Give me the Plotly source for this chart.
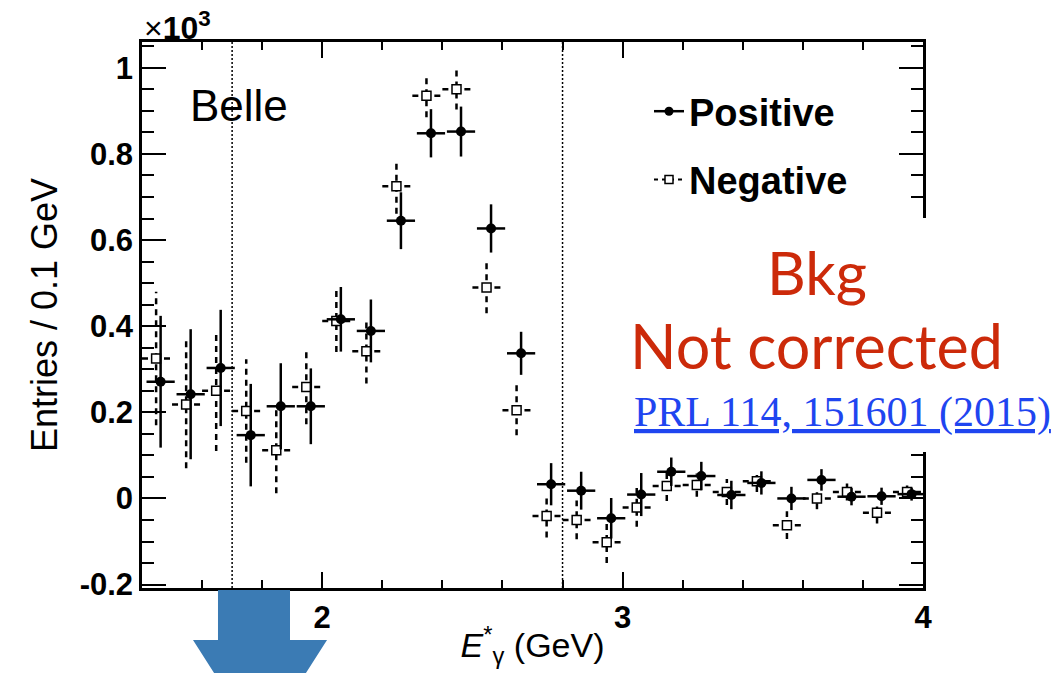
import plotly.graph_objects as go

# ---------------- data (values in units of 10^3 entries / 0.1 GeV) ----------------
bin_centers = [1.45, 1.55, 1.65, 1.75, 1.85, 1.95, 2.05, 2.15, 2.25, 2.35, 2.45, 2.55, 2.65,
               2.75, 2.85, 2.95, 3.05, 3.15, 3.25, 3.35, 3.45, 3.55, 3.65, 3.75, 3.85, 3.95]
pos_y = [0.271, 0.242, 0.303, 0.147, 0.214, 0.214, 0.416, 0.389, 0.645, 0.848, 0.852, 0.627, 0.337,
         0.033, 0.018, -0.046, 0.009, 0.062, 0.052, 0.008, 0.036, 0.000, 0.043, 0.004, 0.005, 0.010]
pos_err = [0.153, 0.151, 0.135, 0.119, 0.100, 0.088, 0.075, 0.073, 0.066, 0.056, 0.058, 0.056, 0.050,
           0.049, 0.044, 0.047, 0.050, 0.033, 0.033, 0.033, 0.027, 0.027, 0.025, 0.020, 0.020, 0.015]
neg_y = [0.325, 0.218, 0.250, 0.203, 0.112, 0.259, 0.412, 0.342, 0.725, 0.935, 0.950, 0.490, 0.205,
         -0.041, -0.050, -0.102, -0.021, 0.029, 0.031, 0.015, 0.040, -0.062, 0.000, 0.015, -0.033, 0.015]
neg_err = [0.155, 0.148, 0.140, 0.120, 0.100, 0.087, 0.072, 0.075, 0.064, 0.050, 0.047, 0.060, 0.058,
           0.050, 0.045, 0.048, 0.045, 0.035, 0.027, 0.030, 0.025, 0.032, 0.025, 0.020, 0.025, 0.015]
bin_half = 0.047          # half bin width drawn as horizontal bar
pos_shift = 0.012         # small horizontal displacement of the two series
neg_shift = -0.003
cut_lines = [1.7, 2.8]    # dotted signal-region boundaries
y_ticks = [-0.2, 0, 0.2, 0.4, 0.6, 0.8, 1.0]
y_tick_text = ["-0.2", "0", "0.2", "0.4", "0.6", "0.8", "1"]
x_ticks = [2, 3, 4]
x_tick_text = ["2", "3", "4"]

FONT = "Liberation Sans"
W, H = 1053, 673
L, R, T, B = 142, 130, 42, 85
pw, ph = W - L - R, H - T - B

def px_x(px):
    return (px - L) / pw

def px_y(py):
    return (H - B - py) / ph

xp = [c + pos_shift for c in bin_centers]
xn = [c + neg_shift for c in bin_centers]

fig = go.Figure()

# negative: dashed error bars built from data
vx, vy, hx, hy = [], [], [], []
for x, y, e in zip(xn, neg_y, neg_err):
    vx += [x, x, None]
    vy += [y - e, y + e, None]
    hx += [x - bin_half, x + bin_half, None]
    hy += [y, y, None]
fig.add_trace(go.Scatter(x=vx, y=vy, mode="lines", line=dict(color="black", width=2.5, dash="6px,5px"),
                         showlegend=False, hoverinfo="skip"))
fig.add_trace(go.Scatter(x=hx, y=hy, mode="lines", line=dict(color="black", width=2.5, dash="6px,5px"),
                         showlegend=False, hoverinfo="skip"))
fig.add_trace(go.Scatter(x=xn, y=neg_y, mode="markers",
                         marker=dict(symbol="square", size=9, color="white", line=dict(color="black", width=1.5)),
                         showlegend=False))

# positive: solid error bars
fig.add_trace(go.Scatter(x=xp, y=pos_y, mode="markers",
                         marker=dict(symbol="circle", size=10, color="black"),
                         error_y=dict(type="data", array=pos_err, color="black", thickness=2.5, width=0),
                         error_x=dict(type="constant", value=bin_half, color="black", thickness=2.5, width=0),
                         showlegend=False))

# legend entries
fig.add_trace(go.Scatter(x=[None], y=[None], mode="lines+markers", name="Positive", legendgroup="p",
                         line=dict(color="black", width=2.5),
                         marker=dict(symbol="circle", size=9, color="black")))
fig.add_trace(go.Scatter(x=[None], y=[None], mode="lines+markers", name="Negative", legendgroup="n",
                         line=dict(color="black", width=2, dash="4px,4px"),
                         marker=dict(symbol="square", size=8, color="white", line=dict(color="black", width=1.5))))

shapes = []
for c in cut_lines:
    shapes.append(dict(type="line", xref="x", yref="paper", x0=c, x1=c, y0=0, y1=1,
                       line=dict(color="black", width=1.5, dash="2px,2px"), layer="above"))
# white patch behind the "Bkg / Not corrected" text, covering the right frame
shapes.append(dict(type="rect", xref="paper", yref="paper", x0=px_x(880), x1=px_x(1060),
                   y0=px_y(452), y1=px_y(218), fillcolor="white", line=dict(width=0), layer="above"))
# blue arrow below the axis
ax = [218, 290, 290, 327, 260, 193, 218]
ay = [590, 590, 640, 640, 745, 640, 640]
path = "M " + " L ".join(f"{px_x(a):.4f},{px_y(b):.4f}" for a, b in zip(ax, ay)) + " Z"
shapes.append(dict(type="path", xref="paper", yref="paper", path=path,
                   fillcolor="#3b7bb4", line=dict(width=0), layer="above"))

annotations = [
    dict(text="Belle", xref="paper", yref="paper", x=px_x(188), y=px_y(105), xanchor="left", yanchor="middle",
         showarrow=False, font=dict(family=FONT, size=44, color="black")),
    dict(text="×<b>10<sup>3</sup></b>", xref="paper", yref="paper", x=0, y=1, xanchor="left", yanchor="bottom",
         showarrow=False, font=dict(family=FONT, size=32, color="black"), yshift=-6),
    dict(text="Bkg", xref="paper", yref="paper", x=px_x(817), y=px_y(272), xanchor="center", yanchor="middle",
         showarrow=False, font=dict(family="Lato", size=60, color="#cc2a0a")),
    dict(text="Not corrected", xref="paper", yref="paper", x=px_x(816), y=px_y(345), xanchor="center",
         yanchor="middle", showarrow=False, font=dict(family="Lato", size=61, color="#cc2a0a")),
    dict(text="<u>PRL 114, 151601 (2015)</u>", xref="paper", yref="paper", x=px_x(632), y=px_y(412),
         xanchor="left", yanchor="middle", showarrow=False,
         font=dict(family="Liberation Serif", size=42, color="#1f45f0")),
]

axis_common = dict(showline=True, linecolor="black", linewidth=2.5, mirror="ticks", ticks="inside",
                   tickcolor="black", tickwidth=2, showgrid=False, zeroline=False,
                   tickfont=dict(family=FONT, size=31, color="black", weight="bold"))

fig.update_layout(
    width=W, height=H, margin=dict(l=L, r=R, t=T, b=B),
    paper_bgcolor="white", plot_bgcolor="white",
    xaxis=dict(range=[1.4, 4.0], tickvals=x_ticks, ticktext=x_tick_text, ticklen=16,
               minor=dict(dtick=0.2, tick0=0, ticklen=8, ticks="inside", tickcolor="black", tickwidth=2),
               title=dict(text="<i>E</i><sup>*</sup><sub>γ</sub> (GeV)", standoff=0,
                          font=dict(family=FONT, size=34, color="black")),
               **axis_common),
    yaxis=dict(range=[-0.208, 1.060], tickvals=y_ticks, ticktext=y_tick_text, ticklen=24,
               minor=dict(dtick=0.05, tick0=0, ticklen=12, ticks="inside", tickcolor="black", tickwidth=2),
               title=dict(text="Entries / 0.1 GeV", standoff=12,
                          font=dict(family=FONT, size=36, color="black")),
               **axis_common),
    legend=dict(x=px_x(649), y=px_y(80), xanchor="left", yanchor="top", bgcolor="rgba(0,0,0,0)",
                traceorder="grouped", tracegroupgap=16,
                font=dict(family=FONT, size=38, color="black", weight="bold")),
    shapes=shapes, annotations=annotations,
)

fig.write_html("out.html")
